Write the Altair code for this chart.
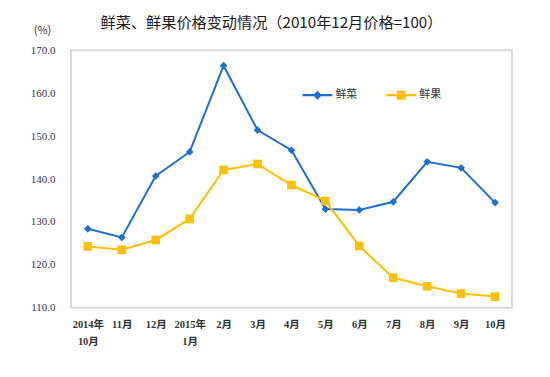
import altair as alt
import pandas as pd

months = ["2014年|10月", "11月", "12月", "2015年|1月", "2月", "3月", "4月",
          "5月", "6月", "7月", "8月", "9月", "10月"]
veg = [128.4, 126.4, 140.7, 146.3, 166.4, 151.4, 146.7, 133.0, 132.8, 134.7, 144.0, 142.6, 134.5]
fruit = [124.3, 123.5, 125.8, 130.7, 142.1, 143.5, 138.6, 134.9, 124.4, 117.0, 115.0, 113.3, 112.6]
series_names = ["鲜菜", "鲜果"]
series_colors = ["#1F6FD1", "#FFC000"]
series_shapes = ["diamond", "square"]
y_ticks = [110, 120, 130, 140, 150, 160, 170]

rows = []
for name, vals in zip(series_names, [veg, fruit]):
    for m, v in zip(months, vals):
        rows.append({"month": m, "series": name, "value": v})
df = pd.DataFrame(rows)

num_font = "Liberation Serif, Noto Sans CJK SC"
cjk_font = "Noto Sans CJK SC"

# legend symbols: a short line with the series marker on it
legend_paths = [
    "M-1,-0.07H1V0.07H-1Z M0,-0.3L0.3,0L0,0.3L-0.3,0Z",
    "M-1,-0.07H1V0.07H-1Z M-0.3,-0.3H0.3V0.3H-0.3Z",
]

x = alt.X(
    "month:N", sort=months,
    scale=alt.Scale(type="point", padding=0.5),
    axis=alt.Axis(
        title=None, labelAngle=0, ticks=False, tickSize=0, domain=False,
        labelExpr="split(datum.label, '|')", labelPadding=12,
        labelFont=num_font, labelFontSize=10.5, labelFontWeight="bold",
        labelColor="#333333", labelLineHeight=17, labelBaseline="top",
    ),
)
y = alt.Y(
    "value:Q",
    scale=alt.Scale(domain=[110, 170], zero=False, nice=False),
    axis=alt.Axis(
        values=y_ticks, format=".1f", grid=False, domain=False, ticks=False, tickSize=0,
        labelPadding=16, labelFont=num_font, labelFontSize=11, labelColor="#333355",
        title="(%)", titleAngle=0, titleX=-29, titleY=-20, titleAlign="center",
        titleBaseline="middle", titleFont=cjk_font, titleFontSize=11,
        titleFontWeight="normal", titleColor="#333333",
    ),
)
legend = alt.Legend(
    orient="none", legendX=232, legendY=30, direction="horizontal", title=None,
    symbolSize=900, labelFont=cjk_font, labelFontSize=11, labelColor="#333333",
    columnPadding=29, labelOffset=3, padding=0, symbolStrokeWidth=0,
    symbolOpacity=1,
)
color = alt.Color(
    "series:N", sort=series_names,
    scale=alt.Scale(domain=series_names, range=series_colors),
    legend=legend,
)

base = alt.Chart(df)
lines = base.mark_line(strokeWidth=2).encode(x=x, y=y, color=color)
pts_veg = base.transform_filter(alt.datum.series == series_names[0]).mark_point(
    filled=True, opacity=1, size=60, shape=series_shapes[0]
).encode(x=x, y=y, color=color)
pts_fruit = base.transform_filter(alt.datum.series == series_names[1]).mark_point(
    filled=True, opacity=1, size=75, shape=series_shapes[1]
).encode(x=x, y=y, color=color)
legend_layer = base.mark_point(filled=True, size=0).encode(
    x=x, y=y, color=color,
    shape=alt.Shape("series:N", sort=series_names,
                    scale=alt.Scale(domain=series_names, range=legend_paths),
                    legend=legend),
)

chart = (
    alt.layer(lines, pts_veg, pts_fruit, legend_layer)
    .properties(
        width=442, height=258,
        autosize=alt.AutoSizeParams(type="none"),
        padding={"left": 63, "top": 42, "right": 30, "bottom": 55},
        background="white",
        title=alt.Title(
            "鲜菜、鲜果价格变动情况（2010年12月价格=100）",
            anchor="middle", dx=-20, dy=21, fontSize=15.2, font=cjk_font,
            fontWeight="normal", color="#1a1a1a", offset=14,
        ),
    )
    .configure_view(stroke="#d9d9d9", strokeWidth=2)
)

chart.save("out.html", embed_options={"renderer": "svg", "actions": False})
